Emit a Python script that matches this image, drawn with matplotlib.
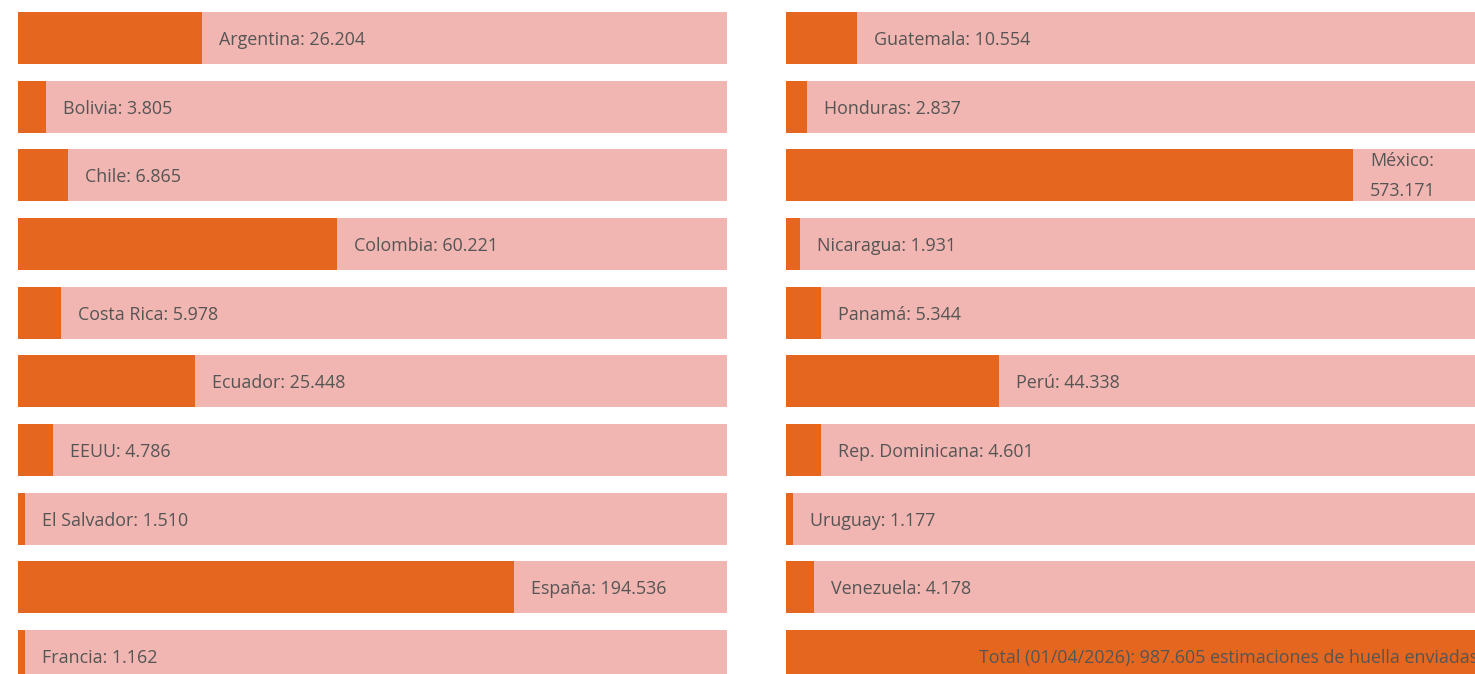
import matplotlib
matplotlib.use("Agg")
import matplotlib.pyplot as plt

# ---- data ----
left_countries = ["Argentina", "Bolivia", "Chile", "Colombia", "Costa Rica",
                  "Ecuador", "EEUU", "El Salvador", "España", "Francia"]
left_values = [26204, 3805, 6865, 60221, 5978, 25448, 4786, 1510, 194536, 1162]
left_fill_pct = [26, 4, 7, 45, 6, 25, 5, 1, 70, 1]

right_countries = ["Guatemala", "Honduras", "México", "Nicaragua", "Panamá",
                   "Perú", "Rep. Dominicana", "Uruguay", "Venezuela"]
right_values = [10554, 2837, 573171, 1931, 5344, 44338, 4601, 1177, 4178]
right_fill_pct = [10, 3, 80, 2, 5, 30, 5, 1, 4]

total_label = "Total (01/04/2026)"
total_value = 987605
total_fill_pct = 100

ORANGE = "#E5671F"
PINK = "#F1B6B1"
TEXT = "#555555"

plt.rcParams["font.family"] = ["Open Sans", "DejaVu Sans"]


def fmt(v):
    return f"{v:,}".replace(",", ".")


W, H = 1475, 674
fig = plt.figure(figsize=(W / 100, H / 100), dpi=100)
fig.patch.set_facecolor("white")

pitch = 68.67
first_center = 38.0
ylim = ((H - first_center) / pitch, -first_center / pitch)
bar_h = 52 / pitch
FS = 12.9


def make_ax(x0, width):
    ax = fig.add_axes([x0 / W, 0, width / W, 1])
    ax.set_xlim(0, 100)
    ax.set_ylim(*ylim)
    ax.axis("off")
    return ax


axL = make_ax(18, 709)
axR = make_ax(786, 709)


def draw(ax, names, values, fills):
    ys = list(range(len(names)))
    ax.barh(ys, [100] * len(ys), height=bar_h, color=PINK, linewidth=0)
    ax.barh(ys, fills, height=bar_h, color=ORANGE, linewidth=0)
    for y, n, v, f in zip(ys, names, values, fills):
        label = f"{n}: {fmt(v)}"
        dy = -2
        if f > 75:
            label = f"{n}:\n{fmt(v)}"
            dy = -1
        ax.annotate(label, xy=(f, y), xytext=(17, dy), textcoords="offset pixels",
                    ha="left", va="center", fontsize=FS, color=TEXT,
                    linespacing=1.85)


draw(axL, left_countries, left_values, left_fill_pct)
draw(axR, right_countries, right_values, right_fill_pct)

# total bar
ty = len(right_countries)
axR.barh([ty], [total_fill_pct], height=bar_h, color=ORANGE, linewidth=0)
axR.annotate(f"{total_label}: {fmt(total_value)} estimaciones de huella enviadas",
             xy=(total_fill_pct, ty), xytext=(-17, -2), textcoords="offset pixels",
             ha="right", va="center", fontsize=FS, color=TEXT)

fig.savefig("out.png", dpi=100, facecolor="white")
